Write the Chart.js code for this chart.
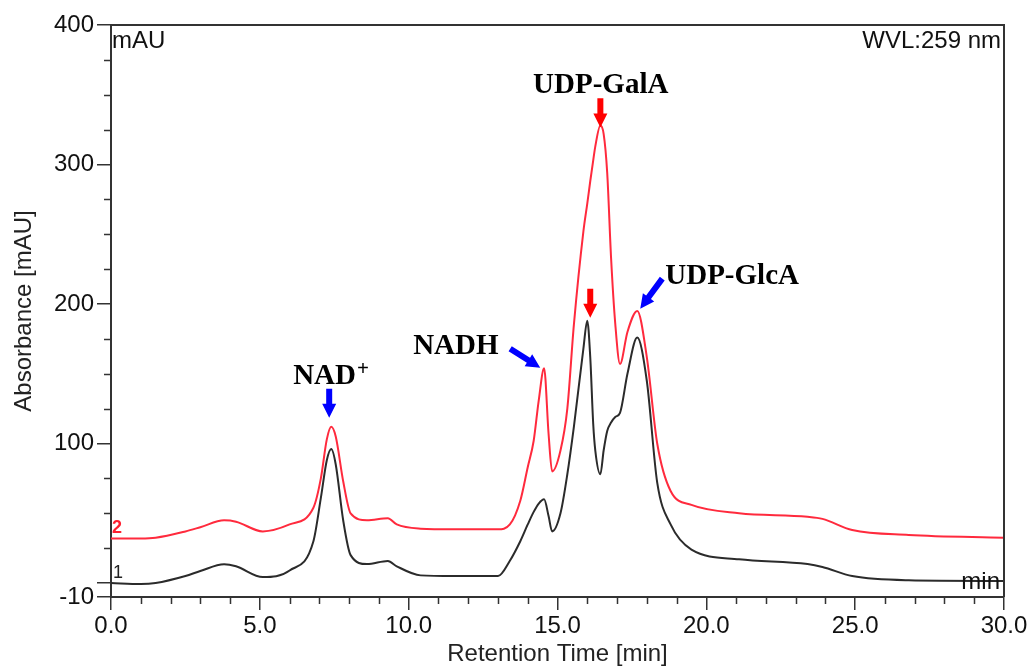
<!DOCTYPE html>
<html>
<head>
<meta charset="utf-8">
<title>HPLC - WVL 259 nm</title>
<script src="https://cdn.jsdelivr.net/npm/chart.js@4.4.1/dist/chart.umd.min.js"></script>
<style>
    html, body { margin: 0; padding: 0; background: #fff; }
    #wrap { width: 1030px; height: 670px; }
</style>
</head>
<body>
<div id="wrap"><canvas id="hplcChart" width="1030" height="670"></canvas></div>
<script>
"use strict";

// Retention time [min], shared by both traces
var retentionTimes = [0, 1, 1.5, 2.5, 3, 3.8, 4.2, 5.1, 6, 6.8,
    7.05, 7.25, 7.4, 7.55, 7.8, 8.05, 8.6, 9.3, 9.6, 10.4,
    11.5, 13, 13.4, 13.75, 14, 14.2, 14.37, 14.55, 14.7, 14.82,
    15.1, 15.33, 15.55, 15.87, 16, 16.1, 16.2, 16.27, 16.44, 16.55,
    16.67, 16.8, 16.94, 17.1, 17.35, 17.68, 18, 18.35, 18.8, 19.5,
    21.1, 23.4, 23.9, 24.9, 26.8, 30];

// Trace 1 (black) [mAU]
var trace1 = [0, -0.7, 0, 5, 8.6, 13.5, 12, 4.3, 9, 30,
    61, 88, 96, 85, 45, 20, 13.6, 15.8, 12, 5.5,
    5, 5, 16, 30, 42, 51, 57, 60, 48, 37,
    50, 78, 112, 168, 188, 162, 114, 95, 78, 95,
    109, 115, 119, 122, 150, 176, 145, 72, 42, 24,
    17, 13.6, 11.5, 5, 2, 1.5];

// Trace 2 (red) [mAU]
var trace2 = [32, 32, 32.5, 37, 40, 45, 44, 37, 42, 54,
    75, 103, 112, 105, 73, 50, 45, 46.5, 42, 39,
    38.5, 38.5, 42, 59, 83, 102, 131, 154, 107, 80,
    95, 125, 185, 252, 272, 288, 303, 313, 328, 322,
    294, 233, 186, 157, 180, 195, 162, 100, 66, 56,
    50, 47.5, 46, 38, 34.5, 32.5];

var xTickValues = [0, 5, 10, 15, 20, 25, 30];
var yTickValues = [-10, 0, 100, 200, 300, 400];
var yTickLabels = ["-10", "", "100", "200", "300", "400"];
var xMinorTicks = [1, 2, 3, 4, 6, 7, 8, 9, 11, 12, 13, 14, 16, 17, 18, 19, 21, 22, 23, 24, 26, 27, 28, 29];
var yMinorTicks = [25, 50, 75, 125, 150, 175, 225, 250, 275, 325, 350, 375];

// peak labels and arrows, anchored in data units (time, mAU)
var peakLabels = [
    { text: "NAD", sup: "+", t: 6.12, v: 142.5 },
    { text: "NADH", t: 10.15, v: 164.4 },
    { text: "UDP-GalA", t: 14.18, v: 351 },
    { text: "UDP-GlcA", t: 18.62, v: 214.6 }
];
var peakArrows = [
    { from: [7.33, 139.3], to: [7.33, 118.4], color: "#0000ff" },
    { from: [13.41, 168], to: [14.42, 154.3], color: "#0000ff" },
    { from: [16.44, 347.5], to: [16.44, 326.6], color: "#ff0000" },
    { from: [16.1, 211], to: [16.1, 190.2], color: "#ff0000" },
    { from: [18.52, 218.2], to: [17.78, 196.7], color: "#0000ff" }
];

var SANS = "'Liberation Sans', Arial, sans-serif";
var SERIF = "'Liberation Serif', 'Times New Roman', serif";

function toPoints(values) {
    return retentionTimes.map(function (t, i) { return { x: t, y: values[i] }; });
}

function drawArrow(ctx, x1, y1, x2, y2, color) {
    var ang = Math.atan2(y2 - y1, x2 - x1);
    var len = Math.hypot(x2 - x1, y2 - y1);
    var headLen = 14, headW = 7, shaftW = 3;
    ctx.save();
    ctx.translate(x2, y2);
    ctx.rotate(ang);
    ctx.fillStyle = color;
    ctx.beginPath();
    ctx.moveTo(-len, -shaftW);
    ctx.lineTo(-headLen, -shaftW);
    ctx.lineTo(-headLen, -headW);
    ctx.lineTo(0, 0);
    ctx.lineTo(-headLen, headW);
    ctx.lineTo(-headLen, shaftW);
    ctx.lineTo(-len, shaftW);
    ctx.closePath();
    ctx.fill();
    ctx.restore();
}

var frameAndLabels = {
    id: "frameAndLabels",
    afterDraw: function (chart) {
        var ctx = chart.ctx;
        var xs = chart.scales.x, ys = chart.scales.y;
        var area = chart.chartArea;
        ctx.save();

        // top and right frame lines
        ctx.strokeStyle = "#333";
        ctx.lineWidth = 2;
        ctx.beginPath();
        ctx.moveTo(area.left, area.top);
        ctx.lineTo(area.right, area.top);
        ctx.lineTo(area.right, area.bottom);
        ctx.stroke();

        // minor ticks
        ctx.lineWidth = 1.5;
        ctx.beginPath();
        xMinorTicks.forEach(function (t) {
            var px = Math.round(xs.getPixelForValue(t)) + 0.5;
            ctx.moveTo(px, area.bottom);
            ctx.lineTo(px, area.bottom + 7);
        });
        yMinorTicks.forEach(function (v) {
            var py = Math.round(ys.getPixelForValue(v)) + 0.5;
            ctx.moveTo(area.left, py);
            ctx.lineTo(area.left - 7, py);
        });
        ctx.stroke();

        // instrument texts
        ctx.fillStyle = "#111";
        ctx.font = "24px " + SANS;
        ctx.textBaseline = "alphabetic";
        ctx.textAlign = "left";
        ctx.fillText("mAU", area.left + 1, area.top + 23);
        ctx.textAlign = "right";
        ctx.fillText("WVL:259 nm", area.right - 3, area.top + 23);
        ctx.fillText("min", area.right - 4, area.bottom - 8);

        // trace numbers
        ctx.textAlign = "left";
        ctx.font = "bold 18px " + SANS;
        ctx.fillStyle = "#ff1f2f";
        ctx.fillText("2", area.left + 1, ys.getPixelForValue(trace2[0]) - 5);
        ctx.font = "18px " + SANS;
        ctx.fillStyle = "#222";
        ctx.fillText("1", area.left + 2, ys.getPixelForValue(trace1[0]) - 5);

        // peak labels
        ctx.fillStyle = "#000";
        peakLabels.forEach(function (lbl) {
            var px = xs.getPixelForValue(lbl.t);
            var py = ys.getPixelForValue(lbl.v);
            ctx.font = "bold 29px " + SERIF;
            ctx.fillText(lbl.text, px, py);
            if (lbl.sup) {
                var w = ctx.measureText(lbl.text).width;
                ctx.font = "bold 21px " + SERIF;
                ctx.fillText(lbl.sup, px + w + 1, py - 9);
            }
        });

        // arrows
        peakArrows.forEach(function (a) {
            drawArrow(ctx,
                xs.getPixelForValue(a.from[0]), ys.getPixelForValue(a.from[1]),
                xs.getPixelForValue(a.to[0]), ys.getPixelForValue(a.to[1]),
                a.color);
        });

        ctx.restore();
    }
};

var ctx = document.getElementById("hplcChart").getContext("2d");

new Chart(ctx, {
    type: "line",
    data: {
        datasets: [{
            label: "1",
            data: toPoints(trace1),
            borderColor: "#2b2b2b",
            borderWidth: 2,
            pointRadius: 0,
            cubicInterpolationMode: "monotone",
            fill: false
        }, {
            label: "2",
            data: toPoints(trace2),
            borderColor: "#ff2a3d",
            borderWidth: 2,
            pointRadius: 0,
            cubicInterpolationMode: "monotone",
            fill: false
        }]
    },
    options: {
        responsive: false,
        animation: false,
        devicePixelRatio: 1,
        layout: { padding: { top: 25, right: 26, left: 0, bottom: 0 } },
        plugins: {
            legend: { display: false },
            tooltip: { enabled: false }
        },
        scales: {
            x: {
                type: "linear",
                min: 0,
                max: 30,
                afterBuildTicks: function (scale) {
                    scale.ticks = xTickValues.map(function (v) { return { value: v }; });
                },
                afterFit: function (scale) { scale.height = 73; },
                ticks: {
                    autoSkip: false,
                    maxRotation: 0,
                    padding: 2,
                    color: "#111",
                    font: { family: SANS, size: 24 },
                    callback: function (v) { return Number(v).toFixed(1); }
                },
                grid: { drawOnChartArea: false, drawTicks: true, tickLength: 13, color: "#333", lineWidth: 1.5 },
                border: { display: true, color: "#333", width: 2 },
                title: {
                    display: true,
                    text: "Retention Time [min]",
                    color: "#222",
                    font: { family: SANS, size: 24 },
                    padding: { top: 0, bottom: 1 }
                }
            },
            y: {
                type: "linear",
                min: -10,
                max: 400,
                afterBuildTicks: function (scale) {
                    scale.ticks = yTickValues.map(function (v) { return { value: v }; });
                },
                afterFit: function (scale) { scale.width = 111; },
                ticks: {
                    autoSkip: false,
                    padding: 3,
                    color: "#111",
                    font: { family: SANS, size: 24 },
                    callback: function (v) {
                        var i = yTickValues.indexOf(v);
                        return i >= 0 ? yTickLabels[i] : "";
                    }
                },
                grid: { drawOnChartArea: false, drawTicks: true, tickLength: 14, color: "#333", lineWidth: 1.5 },
                border: { display: true, color: "#333", width: 2 },
                title: {
                    display: true,
                    text: "Absorbance [mAU]",
                    color: "#222",
                    font: { family: SANS, size: 24 },
                    padding: { top: 10, bottom: 0 }
                }
            }
        }
    },
    plugins: [frameAndLabels]
});

console.log("chart drawn");
</script>
</body>
</html>
